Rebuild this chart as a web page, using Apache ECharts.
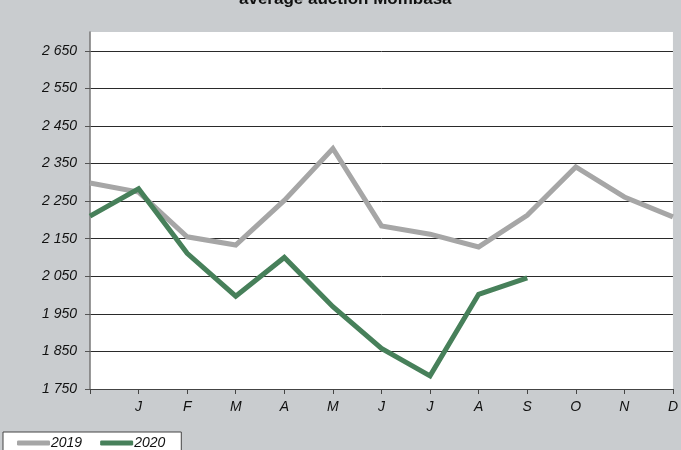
<!DOCTYPE html>
<html>
<head>
<meta charset="utf-8">
<script src="https://cdn.jsdelivr.net/npm/echarts@6/dist/echarts.min.js"></script>
<style>
html,body{margin:0;padding:0;background:#C9CCCF;}
#chart{width:681px;height:450px;}
</style>
</head>
<body>
<div id="chart"></div>
<script>
var titleText = 'average auction Mombasa';
var months = ['', 'J', 'F', 'M', 'A', 'M', 'J', 'J', 'A', 'S', 'O', 'N', 'D'];
var seriesNames = ['2019', '2020'];
var values2019 = [2298, 2274, 2155, 2133, 2252, 2390, 2184, 2162, 2128, 2212, 2341, 2261, 2208];
var values2020 = [2210, 2283, 2111, 1997, 2100, 1969, 1858, 1785, 2002, 2046];
var yTicks = [1750, 1850, 1950, 2050, 2150, 2250, 2350, 2450, 2550, 2650];
var yMin = 1750, yMax = 2700, yStep = 100;

var FONT = "'Liberation Sans', Arial, sans-serif";
function fmt(v) {
  var s = String(Math.round(v));
  return s.replace(/\B(?=(\d{3})+(?!\d))/g, ' ');
}
var splitColors = yTicks.map(function(){ return '#2a2a2a'; });
splitColors.push('rgba(0,0,0,0)');

var chart = echarts.init(document.getElementById('chart'), null, {renderer: 'canvas'});
chart.setOption({
  backgroundColor: '#C9CCCF',
  animation: false,
  title: {
    text: titleText,
    left: 239,
    top: -9,
    padding: 0,
    textStyle: {fontFamily: FONT, fontSize: 17, fontWeight: 'bold', color: '#111'}
  },
  legend: {
    data: seriesNames,
    left: 3,
    top: 432,
    orient: 'horizontal',
    backgroundColor: '#ffffff',
    borderColor: '#444',
    borderWidth: 1,
    padding: [4, 16, 8, 14],
    itemGap: 18,
    itemWidth: 33,
    itemHeight: 5,
    icon: 'roundRect',
    textStyle: {fontFamily: FONT, fontSize: 14, fontStyle: 'italic', color: '#111', padding: [0, 0, 0, -4]}
  },
  grid: {
    left: 90, right: 4, top: 32, bottom: 61,
    show: true, backgroundColor: '#ffffff', borderWidth: 0
  },
  xAxis: {
    type: 'category',
    data: months,
    boundaryGap: false,
    axisLine: {lineStyle: {color: '#444', width: 1}},
    axisTick: {show: true, length: 5, inside: false, lineStyle: {color: '#444'}},
    axisLabel: {interval: 0, margin: 11, fontFamily: FONT, fontSize: 14, fontStyle: 'italic', color: '#111'},
    splitLine: {show: false}
  },
  yAxis: {
    type: 'value',
    min: yMin, max: yMax, interval: yStep,
    axisLine: {show: true, lineStyle: {color: '#777', width: 1.5}},
    axisTick: {show: true, length: 5, inside: false, lineStyle: {color: '#555'}, customValues: yTicks},
    axisLabel: {margin: 13, fontFamily: FONT, fontSize: 14, fontStyle: 'italic', color: '#111', customValues: yTicks,
      formatter: function(v){ return v >= yMax ? '' : fmt(v); }},
    splitLine: {show: true, lineStyle: {color: splitColors, width: 1}}
  },
  series: [
    {name: seriesNames[0], type: 'line', data: values2019, symbol: 'none',
     color: '#A6A6A6', lineStyle: {width: 5, color: '#A6A6A6', join: 'miter'}},
    {name: seriesNames[1], type: 'line', data: values2020, symbol: 'none',
     color: '#47805A', lineStyle: {width: 5, color: '#47805A', join: 'miter'}}
  ]
});
</script>
</body>
</html>
